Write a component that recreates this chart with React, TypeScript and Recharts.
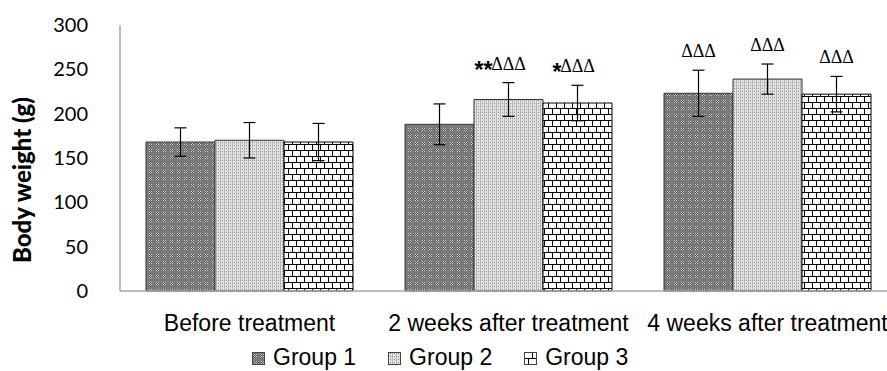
import React from 'react';
import { BarChart, Bar, XAxis, YAxis, ErrorBar, Legend, LabelList } from 'recharts';

const categories = ['Before treatment', '2 weeks after treatment', '4 weeks after treatment'];
const group1 = [168, 188, 223];
const group1Err = [16, 23, 26];
const group2 = [170, 216, 239];
const group2Err = [20, 19, 17];
const group3 = [168, 212, 222];
const group3Err = [21, 20, 20];
// significance marks above the error bars
const group1Marks = ['', '', 'ΔΔΔ'];
const group2Marks = ['', '**ΔΔΔ', 'ΔΔΔ'];
const group3Marks = ['', '*ΔΔΔ', 'ΔΔΔ'];
const yTicks = [0, 50, 100, 150, 200, 250, 300];

const seriesNames = ['Group 1', 'Group 2', 'Group 3'];
const patternIds = ['pat-g1', 'pat-g2', 'pat-g3'];

const data = categories.map((name, i) => ({
  name,
  g1: group1[i],
  g1Err: group1Err[i],
  g1Mark: group1Marks[i],
  g2: group2[i],
  g2Err: group2Err[i],
  g2Mark: group2Marks[i],
  g3: group3[i],
  g3Err: group3Err[i],
  g3Mark: group3Marks[i],
}));

const ARIAL = '"Liberation Sans", Arial, sans-serif';

const Patterns = () => (
  <svg width={0} height={0} style={{ position: 'absolute' }}>
    <defs>
      <pattern id="pat-g1" width={7} height={7} patternUnits="userSpaceOnUse">
        <rect width={7} height={7} fill="#7a7a7a" />
        <rect x={2} y={2} width={1} height={1} fill="#d4d4d4" />
        <rect x={4} y={2} width={1} height={1} fill="#d4d4d4" />
        <rect x={3} y={3} width={1} height={1} fill="#d4d4d4" />
        <rect x={2} y={4} width={1} height={1} fill="#d4d4d4" />
        <rect x={4} y={4} width={1} height={1} fill="#d4d4d4" />
        <rect x={3} y={2} width={1} height={1} fill="#4a4a4a" />
        <rect x={2} y={3} width={1} height={1} fill="#4a4a4a" />
        <rect x={4} y={3} width={1} height={1} fill="#4a4a4a" />
        <rect x={3} y={4} width={1} height={1} fill="#4a4a4a" />
      </pattern>
      <pattern id="pat-g2" width={4} height={3} patternUnits="userSpaceOnUse">
        <rect width={4} height={3} fill="#e2e2e2" />
        <rect x={0} y={0} width={1} height={3} fill="#b4b4b4" />
        <rect x={2} y={1} width={1} height={1} fill="#8c8c8c" />
      </pattern>
      <pattern id="pat-g3" width={8} height={12} patternUnits="userSpaceOnUse">
        <rect width={8} height={12} fill="#ffffff" />
        <rect x={0} y={0} width={8} height={1} fill="#000" />
        <rect x={0} y={6} width={8} height={1} fill="#000" />
        <rect x={0} y={0} width={1} height={6} fill="#000" />
        <rect x={4} y={6} width={1} height={6} fill="#000" />
      </pattern>
    </defs>
  </svg>
);

const AxisTitle = () => (
  <text
    x={31}
    y={180}
    transform="rotate(-90, 31, 180)"
    textAnchor="middle"
    fontFamily="Lato, sans-serif"
    fontWeight={900}
    fontSize={24}
    fill="#000"
  >
    Body weight (g)
  </text>
);

const makeMark = (values: number[], errs: number[]) => (props: any) => {
  const { x, y, width, height, value, index } = props;
  if (!value) return null;
  const pxPerUnit = height / values[index];
  const errTop = y - errs[index] * pxPerUnit;
  const cx = x + width / 2;
  const baseline = errTop - 13;
  const stars = (String(value).match(/^\*+/) || [''])[0];
  const deltas = String(value).slice(stars.length);
  return (
    <g>
      <text x={cx} y={baseline} textAnchor="middle" fontFamily='"Liberation Serif", serif' fontSize={18} fill="#000">
        {deltas}
      </text>
      {stars && (
        <text x={cx - 16} y={baseline + 8} textAnchor="end" fontFamily={ARIAL} fontWeight="bold" fontSize={23} fill="#000">
          {stars}
        </text>
      )}
    </g>
  );
};

const LegendContent = () => (
  <div style={{ display: 'flex', alignItems: 'center', paddingLeft: 252, fontFamily: ARIAL, fontSize: 23, color: '#000', lineHeight: '26px' }}>
    {seriesNames.map((name, i) => (
      <div key={name} style={{ display: 'flex', alignItems: 'center', marginRight: 32 }}>
        <svg width={13} height={13} style={{ marginRight: 8, marginTop: 3 }}>
          <rect x={0.5} y={0.5} width={12} height={12} fill={`url(#${patternIds[i]})`} stroke="#444" />
        </svg>
        <span>{name}</span>
      </div>
    ))}
  </div>
);

export default function App() {
  return (
    <div style={{ position: 'absolute', left: 0, top: 0, width: 887, height: 371, overflow: 'hidden', background: '#fff' }}>
      <Patterns />
      <BarChart
        width={900}
        height={371}
        data={data}
        margin={{ top: 25, right: 3, bottom: 0, left: 0 }}
        barCategoryGap={26}
        barGap={0}
      >
        <XAxis
          dataKey="name"
          height={80}
          tickLine={false}
          tickSize={0}
          tickMargin={24}
          axisLine={{ stroke: '#a6a6a6', strokeWidth: 1.5 }}
          interval={0}
          tick={{ fontFamily: ARIAL, fontSize: 23, fill: '#000' }}
        />
        <YAxis
          width={120}
          domain={[0, 300]}
          ticks={yTicks}
          tickLine={false}
          tickSize={0}
          tickMargin={32}
          axisLine={{ stroke: '#a6a6a6', strokeWidth: 1.5 }}
          tick={{ fontFamily: 'Lato, sans-serif', fontSize: 20, fill: '#000' }}
          label={<AxisTitle />}
        />
        <Legend
          layout="horizontal"
          verticalAlign="middle"
          content={<LegendContent />}
          wrapperStyle={{ position: 'absolute', top: 344, left: 0, width: 887 }}
        />
        <Bar dataKey="g1" name="Group 1" fill="url(#pat-g1)" stroke="#333" strokeWidth={1} isAnimationActive={false}>
          <ErrorBar dataKey="g1Err" width={6} stroke="#000" strokeWidth={1.2} direction="y" />
          <LabelList dataKey="g1Mark" content={makeMark(group1, group1Err)} />
        </Bar>
        <Bar dataKey="g2" name="Group 2" fill="url(#pat-g2)" stroke="#333" strokeWidth={1} isAnimationActive={false}>
          <ErrorBar dataKey="g2Err" width={6} stroke="#000" strokeWidth={1.2} direction="y" />
          <LabelList dataKey="g2Mark" content={makeMark(group2, group2Err)} />
        </Bar>
        <Bar dataKey="g3" name="Group 3" fill="url(#pat-g3)" stroke="#000" strokeWidth={1} isAnimationActive={false}>
          <ErrorBar dataKey="g3Err" width={6} stroke="#000" strokeWidth={1.2} direction="y" />
          <LabelList dataKey="g3Mark" content={makeMark(group3, group3Err)} />
        </Bar>
      </BarChart>
    </div>
  );
}
